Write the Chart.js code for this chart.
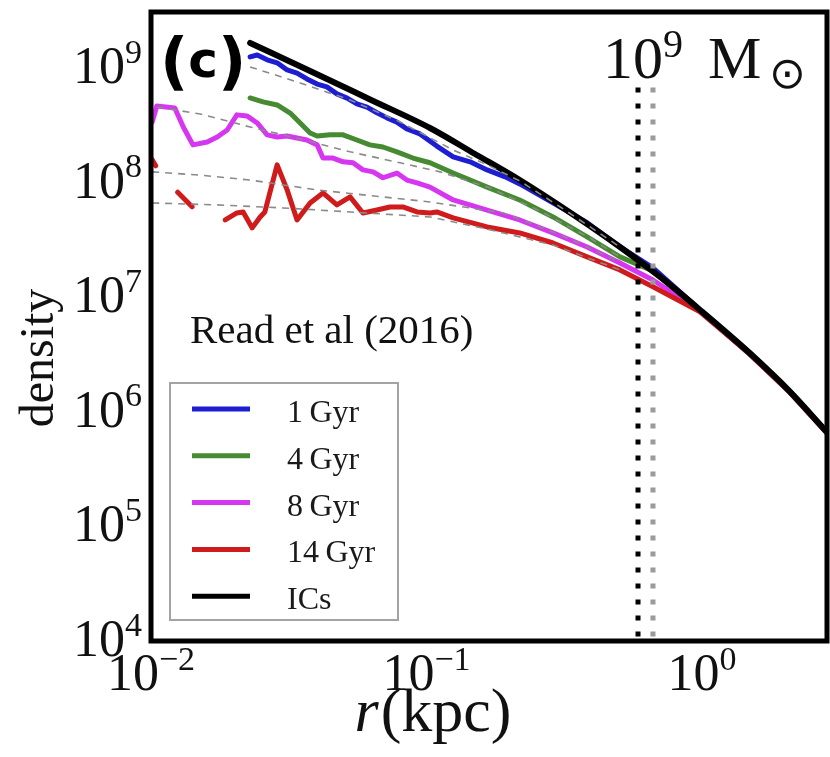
<!DOCTYPE html>
<html>
<head>
<meta charset="utf-8">
<script src="https://cdn.jsdelivr.net/npm/chart.js@4.4.1/dist/chart.umd.min.js"></script>
<style>
  html, body { margin: 0; padding: 0; background: #fff; }
  canvas { display: block; }
</style>
</head>
<body>
<canvas id="profile" width="830" height="757"></canvas>
<script>
// Radii (kpc) and densities for each snapshot
const rIC   = [0.0229, 0.0378, 0.0624, 0.103, 0.150, 0.218, 0.332, 0.504, 0.705, 0.984, 1.49, 2.09, 2.84];
const rhoIC = [1.67e9, 9.5e8, 5.36e8, 3.02e8, 1.79e8, 1.06e8, 5.52e7, 2.76e7, 1.51e7, 7.78e6, 3.27e6, 1.50e6, 6.69e5];

const r1Gyr   = [0.0229, 0.0243, 0.0264, 0.0287, 0.0312, 0.0339, 0.0368, 0.0401, 0.0435, 0.0473, 0.0515, 0.0559, 0.0608, 0.0661, 0.0719, 0.0781,
                 0.0849, 0.0947, 0.109, 0.125, 0.144, 0.166, 0.193, 0.218, 0.288, 0.383, 0.504, 0.664, 0.984, 1.49, 2.09, 2.84];
const rho1Gyr = [1.26e9, 1.31e9, 1.19e9, 1.12e9, 9.7e8, 9.1e8, 8.1e8, 7.3e8, 6.9e8, 6.0e8, 5.5e8, 4.9e8, 4.6e8, 4.1e8, 3.7e8, 3.4e8,
                 2.96e8, 2.68e8, 2.10e8, 1.69e8, 1.53e8, 1.30e8, 1.13e8, 9.8e7, 6.7e7, 4.5e7, 2.76e7, 1.81e7, 7.8e6, 3.3e6, 1.5e6, 6.7e5];

const r4Gyr   = [0.0229, 0.0255, 0.0287, 0.0320, 0.0348, 0.0378, 0.0401, 0.0447, 0.0498, 0.0559, 0.0623, 0.0695, 0.0781, 0.0893, 0.103,
                 0.125, 0.166, 0.218, 0.288, 0.383, 0.504, 0.664, 0.984, 1.49, 2.09, 2.84];
const rho4Gyr = [5.52e8, 5.10e8, 4.80e8, 4.08e8, 3.34e8, 2.73e8, 2.57e8, 2.63e8, 2.63e8, 2.37e8, 2.15e8, 2.06e8, 1.87e8, 1.65e8, 1.50e8,
                 1.22e8, 9.2e7, 7.1e7, 5.05e7, 3.38e7, 2.26e7, 1.70e7, 7.7e6, 3.2e6, 1.5e6, 6.6e5];

const r8Gyr   = [0.0101, 0.0105, 0.0122, 0.0131, 0.0142, 0.0160, 0.0174, 0.0189, 0.0205, 0.0223, 0.0243, 0.0264, 0.0287, 0.0312, 0.0339,
                 0.0368, 0.0401, 0.0421, 0.0458, 0.0498, 0.0541, 0.0588, 0.0640, 0.0695, 0.0781, 0.0849, 0.0924, 0.103, 0.125, 0.166,
                 0.218, 0.288, 0.383, 0.504, 0.664, 0.984, 1.49, 2.09, 2.84];
const rho8Gyr = [3.41e8, 4.70e8, 4.52e8, 3.08e8, 2.15e8, 2.28e8, 2.52e8, 2.90e8, 3.93e8, 3.85e8, 3.34e8, 2.63e8, 2.52e8, 2.57e8, 2.47e8,
                 2.37e8, 2.15e8, 1.65e8, 1.65e8, 1.53e8, 1.50e8, 1.30e8, 1.25e8, 1.11e8, 1.22e8, 1.06e8, 1.00e8, 9.2e7, 7.1e7, 5.8e7,
                 4.75e7, 3.66e7, 2.76e7, 2.00e7, 1.42e7, 7.6e6, 3.2e6, 1.48e6, 6.6e5];

// null = empty bins (no particles)
const r14Gyr   = [0.0101, 0.0104, 0.0112, 0.0125, 0.0141, 0.0160, 0.0186, 0.0205, 0.0216, 0.0233, 0.0249, 0.0259, 0.0287, 0.0312, 0.0339,
                  0.0378, 0.0421, 0.0473, 0.0528, 0.0588, 0.0661, 0.0737, 0.0821, 0.0924, 0.103, 0.109, 0.125, 0.166, 0.218, 0.288,
                  0.383, 0.504, 0.664, 0.984, 1.49, 2.09, 2.84];
const rho14Gyr = [1.59e8, 1.41e8, null, 8.3e7, 6.2e7, null, 4.75e7, 5.47e7, 5.58e7, 4.05e7, 5.05e7, 5.58e7, 1.44e8, 8.7e7, 4.75e7,
                  6.69e7, 8.18e7, 6.43e7, 7.55e7, 5.47e7, 5.81e7, 6.17e7, 6.17e7, 5.58e7, 5.47e7, 5.58e7, 4.95e7, 4.13e7, 3.66e7, 2.99e7,
                  2.26e7, 1.74e7, 1.24e7, 7.5e6, 3.21e6, 1.47e6, 6.56e5];

// cored fits (dashed)
const rFit1   = [0.0229, 0.0348, 0.0528, 0.0802, 0.125, 0.166, 0.218, 0.306, 0.504];
const rhoFit1 = [1.03e9, 7.47e8, 5.31e8, 3.41e8, 1.94e8, 1.44e8, 1.04e8, 6.17e7, 2.76e7];
const rFit4   = [0.0105, 0.0151, 0.0229, 0.0348, 0.0528, 0.0802, 0.112, 0.170, 0.258, 0.392, 0.504];
const rhoFit4 = [4.61e8, 4.0e8, 3.08e8, 2.42e8, 1.87e8, 1.50e8, 1.25e8, 9.04e7, 5.69e7, 3.31e7, 2.26e7];
const rFit8   = [0.0101, 0.0151, 0.0229, 0.0401, 0.0695, 0.103, 0.190, 0.306, 0.504];
const rhoFit8 = [1.25e8, 1.17e8, 1.06e8, 8.69e7, 7.55e7, 6.82e7, 5.47e7, 3.52e7, 2.04e7];
const rFit14   = [0.0101, 0.0174, 0.0301, 0.0401, 0.103, 0.166, 0.288, 0.504];
const rhoFit14 = [6.69e7, 6.43e7, 6.05e7, 5.81e7, 5.05e7, 3.96e7, 2.87e7, 1.74e7];

// half-light / core radius markers
const rCore = [0.586, 0.664];
const rhoCoreSpan = [6.8e8, 1e4];

const xTicks = [0.01, 0.1, 1];
const yTicks = [1e4, 1e5, 1e6, 1e7, 1e8, 1e9];

const SERIF = '"Liberation Serif", "DejaVu Serif", serif';

function pts(rs, rhos) {
  return rs.map((r, i) => ({ x: r, y: rhos[i] }));
}

function solid(label, color, rs, rhos, order, width) {
  return {
    label: label,
    data: pts(rs, rhos),
    borderColor: color,
    borderWidth: width || 5,
    pointRadius: 0,
    tension: 0,
    borderJoinStyle: 'round',
    borderCapStyle: 'round',
    spanGaps: false,
    order: order
  };
}

function dashed(rs, rhos) {
  return {
    label: '',
    data: pts(rs, rhos),
    borderColor: '#8a8a8a',
    borderWidth: 1.6,
    borderDash: [7, 6],
    pointRadius: 0,
    tension: 0,
    order: 1,
    fit: true
  };
}

function dotted(r, color) {
  return {
    label: '',
    data: rhoCoreSpan.map(v => ({ x: r, y: v })),
    borderColor: color,
    borderWidth: 5,
    borderDash: [5, 11],
    borderCapStyle: 'butt',
    pointRadius: 0,
    order: 0,
    fit: true
  };
}

const ics = solid('ICs', '#000000', rIC, rhoIC, 2, 6);
ics.cubicInterpolationMode = 'monotone';

const datasets = [
  solid('1\u2009Gyr', '#1d1dd2', r1Gyr, rho1Gyr, 6),
  solid('4\u2009Gyr', '#468a32', r4Gyr, rho4Gyr, 5),
  solid('8\u2009Gyr', '#d636f0', r8Gyr, rho8Gyr, 4),
  solid('14\u2009Gyr', '#cf1b1b', r14Gyr, rho14Gyr, 3),
  ics,
  dashed(rFit1, rhoFit1),
  dashed(rFit4, rhoFit4),
  dashed(rFit8, rhoFit8),
  dashed(rFit14, rhoFit14),
  dotted(rCore[0], '#000000'),
  dotted(rCore[1], '#9a9a9a')
];

// draws "10" with a raised exponent; returns nothing
function drawPow(ctx, exp, x, baseY, supY, baseSize, supSize, align) {
  const supText = (exp < 0 ? '\u2212' : '') + Math.abs(exp);
  ctx.font = baseSize + 'px ' + SERIF;
  const wb = ctx.measureText('10').width;
  ctx.font = supSize + 'px ' + SERIF;
  const ws = ctx.measureText(supText).width;
  let left = x;
  if (align === 'right') left = x - wb - ws;
  if (align === 'center') left = x - (wb + ws) / 2;
  ctx.textAlign = 'left';
  ctx.textBaseline = 'alphabetic';
  ctx.font = baseSize + 'px ' + SERIF;
  ctx.fillText('10', left, baseY);
  ctx.font = supSize + 'px ' + SERIF;
  ctx.fillText(supText, left + wb, supY);
}

const decor = {
  id: 'decor',
  afterDraw(chart) {
    const ctx = chart.ctx;
    const a = chart.chartArea;
    const xs = chart.scales.x;
    const ys = chart.scales.y;
    ctx.save();
    ctx.fillStyle = '#111';

    // axes frame
    ctx.strokeStyle = '#000';
    ctx.lineWidth = 5;
    ctx.strokeRect(a.left, a.top, a.right - a.left, a.bottom - a.top);

    // tick labels
    ys.ticks.forEach(t => {
      const py = ys.getPixelForValue(t.value);
      drawPow(ctx, Math.round(Math.log10(t.value)), a.left - 9, py + 15, py - 5.5, 52, 34, 'right');
    });
    xs.ticks.forEach(t => {
      const px = xs.getPixelForValue(t.value);
      drawPow(ctx, Math.round(Math.log10(t.value)), px, a.bottom + 49, a.bottom + 29, 52, 34, 'center');
    });

    // axis titles
    ctx.save();
    ctx.translate(53, 358);
    ctx.rotate(-Math.PI / 2);
    ctx.textAlign = 'center';
    ctx.font = '48px ' + SERIF;
    ctx.fillText('density', 0, 0);
    ctx.restore();

    ctx.textAlign = 'left';
    ctx.font = 'italic 62px ' + SERIF;
    const wr = ctx.measureText('r').width;
    ctx.font = '62px ' + SERIF;
    const wk = ctx.measureText('(kpc)').width;
    const xl = 432 - (wr + wk) / 2;
    ctx.font = 'italic 62px ' + SERIF;
    ctx.fillText('r', xl, 731);
    ctx.font = '62px ' + SERIF;
    ctx.fillText('(kpc)', xl + wr + 2, 731);

    // panel tag
    ctx.fillStyle = '#000';
    ctx.font = 'bold 62px "DejaVu Sans", sans-serif';
    ctx.fillText('(', 160, 82);
    const wp = ctx.measureText('(').width;
    ctx.font = 'bold 50px "DejaVu Sans", sans-serif';
    ctx.fillText('c', 160 + wp, 77);
    const wc = ctx.measureText('c').width;
    ctx.font = 'bold 62px "DejaVu Sans", sans-serif';
    ctx.fillText(')', 160 + wp + wc, 82);

    // mass label
    ctx.fillStyle = '#111';
    ctx.font = '60px ' + SERIF;
    ctx.fillText('10', 603, 78);
    ctx.font = '40px ' + SERIF;
    ctx.fillText('9', 663, 57);
    ctx.font = '60px ' + SERIF;
    ctx.fillText('M', 708, 78);
    ctx.font = '44px "DejaVu Sans", sans-serif';
    ctx.fillText('\u2299', 769, 88);

    // reference note
    ctx.font = '41px ' + SERIF;
    ctx.fillText('Read et al (2016)', 190, 343);

    // legend
    const lx = 170, ly = 383, lw = 228, lh = 237;
    ctx.fillStyle = '#fff';
    ctx.fillRect(lx, ly, lw, lh);
    ctx.strokeStyle = '#a3a3a3';
    ctx.lineWidth = 2;
    ctx.strokeRect(lx, ly, lw, lh);
    const entries = chart.data.datasets.filter(d => !d.fit);
    entries.forEach((d, i) => {
      const ry = 409 + i * 46.8;
      ctx.strokeStyle = d.borderColor;
      ctx.lineWidth = 5;
      ctx.lineCap = 'butt';
      ctx.beginPath();
      ctx.moveTo(192, ry);
      ctx.lineTo(250, ry);
      ctx.stroke();
      ctx.fillStyle = '#1a1a1a';
      ctx.font = '32px ' + SERIF;
      ctx.textAlign = 'left';
      ctx.fillText(d.label, 287, ry + 13);
    });

    ctx.restore();
  }
};

new Chart(document.getElementById('profile'), {
  type: 'line',
  data: { datasets: datasets },
  options: {
    responsive: false,
    animation: false,
    devicePixelRatio: 1,
    layout: { padding: { top: 12, right: 3, bottom: 116, left: 0 } },
    plugins: { legend: { display: false }, tooltip: { enabled: false } },
    scales: {
      x: {
        type: 'logarithmic',
        min: 0.01,
        max: 2.844,
        grid: { display: false },
        border: { display: false },
        ticks: { display: false },
        afterBuildTicks: s => { s.ticks = xTicks.map(v => ({ value: v })); },
        afterFit: s => { s.height = 0; }
      },
      y: {
        type: 'logarithmic',
        min: 1e4,
        max: 3.11e9,
        grid: { display: false },
        border: { display: false },
        ticks: { display: false },
        afterBuildTicks: s => { s.ticks = yTicks.map(v => ({ value: v })); },
        afterFit: s => { s.width = 151; }
      }
    }
  },
  plugins: [decor]
});
</script>
</body>
</html>
